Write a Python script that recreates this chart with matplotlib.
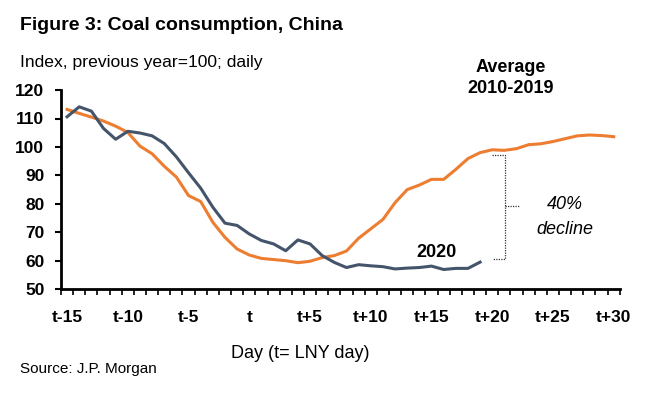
import numpy as np
import matplotlib
matplotlib.use("Agg")
import matplotlib.pyplot as plt
from matplotlib.ticker import FixedLocator

plt.rcParams['font.family'] = ['Liberation Sans', 'DejaVu Sans']

# --- data (index, previous year = 100) ---
days = np.arange(-15, 31)
day_labels = ["t" if d == 0 else f"t{d:+d}" for d in range(-15, 31, 5)]

avg_2010_2019 = [113.2, 111.8, 110.5, 109.1, 107.3, 105.1, 100.3, 97.6, 93.2, 89.4,
                 82.9, 80.8, 73.5, 68.2, 64.1, 62.0, 60.8, 60.4, 60.0, 59.3,
                 59.8, 61.1, 61.8, 63.4, 67.9, 71.2, 74.5, 80.4, 85.0, 86.6,
                 88.6, 88.6, 92.1, 95.9, 98.0, 99.0, 98.8, 99.4, 100.8, 101.1,
                 101.9, 102.9, 103.9, 104.2, 104.0, 103.6]

y2020 = [110.6, 114.1, 112.6, 106.5, 102.7, 105.5, 104.9, 103.9, 101.2, 96.5,
         90.9, 85.5, 78.8, 73.2, 72.4, 69.4, 67.1, 65.9, 63.5, 67.3,
         65.9, 61.8, 59.4, 57.6, 58.6, 58.2, 57.9, 57.1, 57.4, 57.6,
         58.1, 56.9, 57.3, 57.3, 59.5]

orange = "#ED7D31"
slate = "#44546A"

fig = plt.figure(figsize=(6.49, 3.95), dpi=100)
ax = fig.add_axes([0.094, 0.268, 0.861, 0.504])

ax.plot(days, avg_2010_2019, color=orange, lw=2.2, solid_joinstyle="round")
ax.plot(days[:len(y2020)], y2020, color=slate, lw=2.2, solid_joinstyle="round")

ax.set_xlim(-15.5, 30.5)
ax.set_ylim(50, 120)
ax.set_yticks(np.arange(50, 121, 10))
ax.set_xticks(np.arange(-15, 31, 5))
ax.set_xticklabels(day_labels)
ax.xaxis.set_minor_locator(FixedLocator(np.arange(-15.5, 31, 1)))

for s in ["top", "right"]:
    ax.spines[s].set_visible(False)
for s in ["left", "bottom"]:
    ax.spines[s].set_linewidth(2.0)

ax.tick_params(axis="x", which="major", length=0, pad=15)
ax.tick_params(axis="x", which="minor", length=4, width=1.2, direction="out")
ax.tick_params(axis="y", length=4, width=1.5, pad=8)
for lab in ax.get_xticklabels() + ax.get_yticklabels():
    lab.set_fontweight("bold")
    lab.set_fontsize(12.5)

# --- annotations ---
ax.text(21.5, 128.0, "Average", ha="center", va="center", fontsize=13, fontweight="bold", clip_on=False)
ax.text(21.5, 120.7, "2010-2019", ha="center", va="center", fontsize=13, fontweight="bold", clip_on=False)
ax.text(15.4, 62.9, "2020", ha="center", va="center", fontsize=13, fontweight="bold")
ax.text(26.0, 79.7, "40%", ha="center", va="center", fontsize=13, style="italic")
ax.text(26.0, 70.9, "decline", ha="center", va="center", fontsize=13, style="italic")

# dotted brace between the two curves
bx0, bx1, bx2 = 20.0, 21.05, 22.3
ax.plot([bx0, bx1, bx1, bx0], [97.0, 97.0, 60.7, 60.7], color="#333333", lw=0.9, ls=(0, (1, 1)))
ax.plot([bx1, bx2], [79.4, 79.4], color="#333333", lw=0.9, ls=(0, (1, 1)))

# --- figure texts ---
fig.text(0.031, 0.924, "Figure 3: Coal consumption, China", fontsize=14, fontweight="bold", va="baseline")
fig.text(0.031, 0.831, "Index, previous year=100; daily", fontsize=12.6, va="baseline")
fig.text(0.462, 0.094, "Day (t= LNY day)", fontsize=13, ha="center", va="baseline")
fig.text(0.031, 0.056, "Source: J.P. Morgan", fontsize=11, va="baseline")

fig.savefig("out.png", dpi=100)
